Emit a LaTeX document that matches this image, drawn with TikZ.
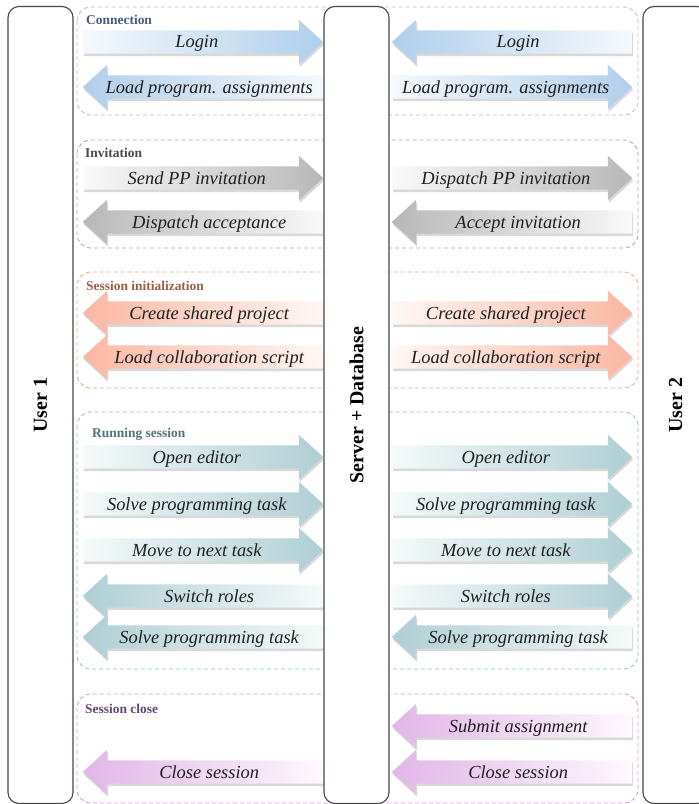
\documentclass[tikz,border=0pt]{standalone}
\usepackage{fontspec}
\setmainfont{Liberation Serif}
\usetikzlibrary{shapes.arrows,shadows}

% arrow fills: H = head end, T = tail end
\definecolor{blueH}{RGB}{176,207,236}
\definecolor{blueT}{RGB}{245,249,253}
\definecolor{greyH}{RGB}{184,184,184}
\definecolor{greyT}{RGB}{249,249,249}
\definecolor{salH}{RGB}{250,183,162}
\definecolor{salT}{RGB}{255,247,244}
\definecolor{tealH}{RGB}{174,207,212}
\definecolor{tealT}{RGB}{245,250,250}
\definecolor{lilH}{RGB}{226,182,232}
\definecolor{lilT}{RGB}{254,248,254}
% group frames (B) and titles (N)
\definecolor{blueB}{RGB}{165,196,222}
\definecolor{greyB}{RGB}{172,172,172}
\definecolor{salB}{RGB}{240,168,140}
\definecolor{tealB}{RGB}{140,196,202}
\definecolor{lilB}{RGB}{214,152,220}
\definecolor{blueN}{RGB}{70,92,118}
\definecolor{greyN}{RGB}{72,72,72}
\definecolor{salN}{RGB}{150,96,70}
\definecolor{tealN}{RGB}{84,114,120}
\definecolor{lilN}{RGB}{98,70,110}

\tikzset{
  lane/.style={draw=black!72, line width=1.1bp, fill=white, rounded corners=11bp,
    rotate=90, minimum width=797bp, minimum height=65bp, inner sep=0pt,
    font=\bfseries\fontsize{20}{23}\selectfont},
  grp/.style={dashed, dash pattern=on 4bp off 3bp, line width=0.9bp, rounded corners=14bp},
  gtitle/.style={anchor=west, inner sep=0pt, font=\bfseries\fontsize{13.5}{15}\selectfont},
  msg/.style={single arrow, single arrow head extend=10.5bp, single arrow tip angle=85,
    single arrow head indent=0pt, minimum height=240bp, minimum width=44bp,
    inner xsep=2bp, inner ysep=0pt, text height=17.5bp, text depth=5.5bp,
    anchor=tail, text=black!88,
    font=\itshape\fontsize{18.5}{20}\selectfont,
    drop shadow={shadow xshift=1bp, shadow yshift=-2.5bp, opacity=0.3}},
  rmsg/.style={msg, left color=#1T, right color=#1H},
  lmsg/.style={msg, shape border rotate=180, left color=#1H, right color=#1T},
}

\begin{document}
\begin{tikzpicture}[x=1bp, y=-1bp]
\useasboundingbox (0,0) rectangle (699,804);

% phase frames
\draw[grp, draw=blueB] (77,7)   rectangle (638,115);
\draw[grp, draw=greyB] (77,140) rectangle (638,248);
\draw[grp, draw=salB]  (77,272) rectangle (638,388);
\draw[grp, draw=tealB] (77,412) rectangle (638,669);
\draw[grp, draw=lilB]  (77,694) rectangle (638,803);

% participants
\node[lane] (user1)  at (40.5,405)  {User 1};
\node[lane] (server) at (356.5,405) {Server + Database};
\node[lane] (user2)  at (675.5,405) {User 2};

% phase titles
\node[gtitle, text=blueN] (tconn) at (86,20)  {Connection};
\node[gtitle, text=greyN] (tinv)  at (85,153) {Invitation};
\node[gtitle, text=salN]  (tinit) at (86,286) {Session initialization};
\node[gtitle, text=tealN] (trun)  at (92,434) {Running session};
\node[gtitle, text=lilN]  (tcls)  at (85,709) {Session close};

% Connection
\node[rmsg=blue] (c1) at (83,42)  {Login};
\node[lmsg=blue] (c2) at (323,87) {Load program. assignments};
\node[lmsg=blue] (c3) at (632,42) {Login};
\node[rmsg=blue] (c4) at (392,87) {Load program. assignments};

% Invitation
\node[rmsg=grey] (i1) at (83,178)  {Send PP invitation};
\node[lmsg=grey] (i2) at (323,222) {Dispatch acceptance};
\node[rmsg=grey] (i3) at (392,178) {Dispatch PP invitation};
\node[lmsg=grey] (i4) at (632,222) {Accept invitation};

% Session initialization
\node[lmsg=sal] (s1) at (323,313) {Create shared project};
\node[lmsg=sal] (s2) at (323,357) {Load collaboration script};
\node[rmsg=sal] (s3) at (392,313) {Create shared project};
\node[rmsg=sal] (s4) at (392,357) {Load collaboration script};

% Running session
\node[rmsg=teal] (r1) at (83,457)  {Open editor};
\node[rmsg=teal] (r2) at (83,504)  {Solve programming task};
\node[rmsg=teal] (r3) at (83,550)  {Move to next task};
\node[lmsg=teal] (r4) at (323,596) {Switch roles};
\node[lmsg=teal] (r5) at (323,637) {Solve programming task};
\node[rmsg=teal] (r6) at (392,457) {Open editor};
\node[rmsg=teal] (r7) at (392,504) {Solve programming task};
\node[rmsg=teal] (r8) at (392,550) {Move to next task};
\node[rmsg=teal] (r9) at (392,596) {Switch roles};
\node[lmsg=teal] (r10) at (632,637) {Solve programming task};

% Session close
\node[lmsg=lil] (e1) at (323,772) {Close session};
\node[lmsg=lil] (e2) at (632,726) {Submit assignment};
\node[lmsg=lil] (e3) at (632,772) {Close session};
\end{tikzpicture}
\end{document}
